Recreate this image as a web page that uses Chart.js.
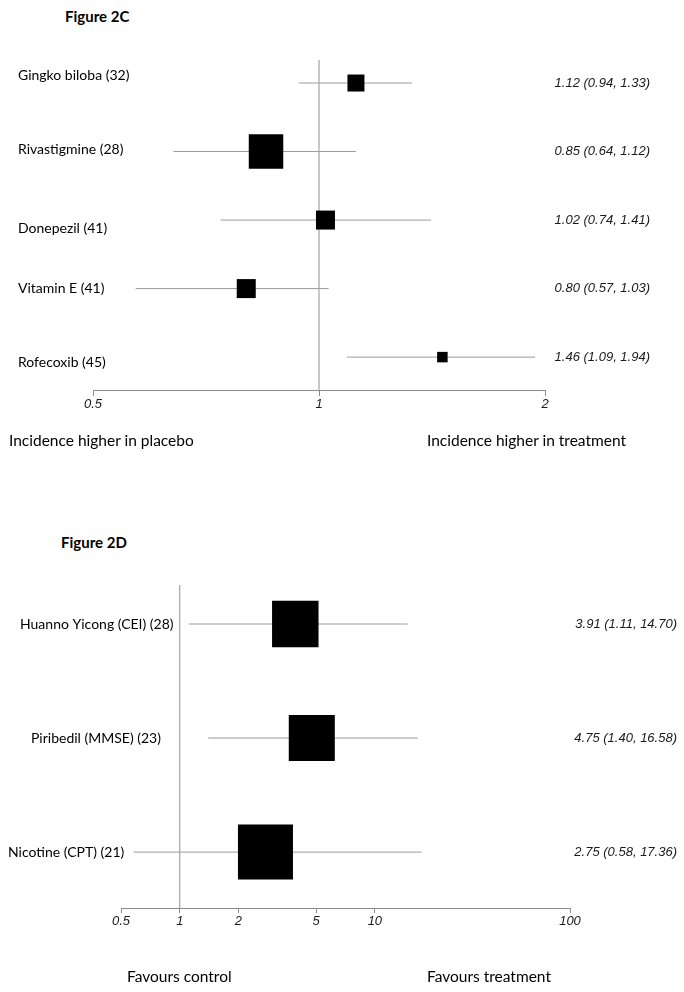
<!DOCTYPE html>
<html>
<head>
<meta charset="utf-8">
<script src="https://cdn.jsdelivr.net/npm/chart.js@4.4.1/dist/chart.umd.min.js"></script>
<style>
  body { margin: 0; background: #fff; }
  #page { position: relative; width: 684px; height: 992px; overflow: hidden; font-family: Lato, sans-serif; color: #000; }
  canvas { position: absolute; left: 0; }
  .txt { position: absolute; white-space: nowrap; line-height: 1; transform: translateY(-50%); }
  .title { font-weight: bold; font-size: 15px; }
  .foot { font-size: 15.5px; }
</style>
</head>
<body>
<div id="page">
  <div class="txt title" style="left:65px; top:16px;">Figure 2C</div>
  <canvas id="fig2c" width="684" height="470" style="top:0;"></canvas>
  <div class="txt foot" style="left:9px; top:441px;">Incidence higher in placebo</div>
  <div class="txt foot" style="left:427px; top:441px;">Incidence higher in treatment</div>

  <div class="txt title" style="left:61px; top:542px;">Figure 2D</div>
  <canvas id="fig2d" width="684" height="522" style="top:470px;"></canvas>
  <div class="txt foot" style="left:127px; top:977px;">Favours control</div>
  <div class="txt foot" style="left:427px; top:977px;">Favours treatment</div>
</div>
<script>
// Figure 2C - incidence ratios
const drugs2C = ['Gingko biloba (32)', 'Rivastigmine (28)', 'Donepezil (41)', 'Vitamin E (41)', 'Rofecoxib (45)'];
const est2C = [1.12, 0.85, 1.02, 0.80, 1.46];
const lower2C = [0.94, 0.64, 0.74, 0.57, 1.09];
const upper2C = [1.33, 1.12, 1.41, 1.03, 1.94];
const weights2C = [17, 34.5, 19, 19, 10.5];
const ticks2C = [0.5, 1, 2];

// Figure 2D - cognitive outcomes
const outcomes2D = ['Huanno Yicong (CEI) (28)', 'Piribedil (MMSE) (23)', 'Nicotine (CPT) (21)'];
const est2D = [3.91, 4.75, 2.75];
const lower2D = [1.11, 1.40, 0.58];
const upper2D = [14.70, 16.58, 17.36];
const weights2D = [31.5, 31.2, 37.3];
const ticks2D = [0.5, 1, 2, 5, 10, 100];

const lineGrey = '#9a9a9a';
const axisGrey = '#8c8c8c';

function forestChart(canvas, cfg) {
    const n = cfg.labels.length;
    const whiskers = cfg.est.map((_, i) => ({
        data: [{ x: cfg.lower[i], y: i }, { x: cfg.upper[i], y: i }],
        showLine: true,
        borderColor: lineGrey,
        borderWidth: 1,
        pointRadius: 0,
        order: 2
    }));

    const textPlugin = {
        id: 'forestText',
        afterDraw(chart) {
            const ctx = chart.ctx;
            const y = chart.scales.y;
            ctx.save();
            ctx.textBaseline = 'middle';
            ctx.fillStyle = '#000';
            ctx.font = '14px Lato';
            ctx.textAlign = 'left';
            cfg.labels.forEach((lab, i) => {
                ctx.fillText(lab, cfg.labelX[i], y.getPixelForValue(i) + cfg.labelNudge[i]);
            });
            ctx.fillStyle = '#1a1a1a';
            ctx.font = 'italic 13px "Liberation Sans"';
            ctx.textAlign = 'right';
            cfg.est.forEach((v, i) => {
                const s = v.toFixed(2) + ' (' + cfg.lower[i].toFixed(2) + ', ' + cfg.upper[i].toFixed(2) + ')';
                ctx.fillText(s, cfg.ciRight, y.getPixelForValue(i));
            });
            ctx.restore();
        }
    };

    return new Chart(canvas, {
        type: 'scatter',
        data: {
            datasets: [
                {
                    data: cfg.est.map((v, i) => ({ x: v, y: i })),
                    pointStyle: 'rect',
                    pointRadius: cfg.weights.map(w => w * cfg.boxScale / Math.SQRT2),
                    backgroundColor: '#000',
                    pointBorderWidth: 0,
                    order: 0
                },
                {
                    data: [{ x: 1, y: cfg.yMin }, { x: 1, y: cfg.yMax }],
                    showLine: true,
                    borderColor: '#a3a3a3',
                    borderWidth: 1.2,
                    pointRadius: 0,
                    clip: false,
                    order: 1
                },
                ...whiskers
            ]
        },
        options: {
            responsive: false,
            animation: false,
            events: [],
            devicePixelRatio: 1,
            layout: { padding: cfg.padding },
            plugins: { legend: { display: false }, tooltip: { enabled: false } },
            scales: {
                x: {
                    type: 'logarithmic',
                    min: cfg.ticks[0],
                    max: cfg.ticks[cfg.ticks.length - 1],
                    afterBuildTicks: s => { s.ticks = cfg.ticks.map(v => ({ value: v })); },
                    afterFit: s => { s.height = 40; },
                    ticks: {
                        autoSkip: false,
                        maxRotation: 0,
                        padding: 1,
                        color: '#1a1a1a',
                        font: { family: 'Liberation Sans', size: 13, style: 'italic' },
                        callback: v => String(v)
                    },
                    grid: { drawOnChartArea: false, tickLength: cfg.tickLength, color: axisGrey, lineWidth: 1 },
                    border: { color: axisGrey, width: 1 }
                },
                y: {
                    type: 'linear',
                    reverse: true,
                    min: cfg.yMin,
                    max: cfg.yMax,
                    display: false
                }
            }
        },
        plugins: [textPlugin]
    });
}

forestChart(document.getElementById('fig2c'), {
    labels: drugs2C, est: est2C, lower: lower2C, upper: upper2C,
    weights: weights2C, ticks: ticks2C, boxScale: 1,
    yMin: -0.336, yMax: 4.48,
    padding: { left: 93, right: 139, top: 60, bottom: 40 },
    tickLength: 6,
    labelX: [18, 18, 18, 18, 18],
    labelNudge: [-8, -2, 8, 0, 5],
    ciRight: 650
});

forestChart(document.getElementById('fig2d'), {
    labels: outcomes2D, est: est2D, lower: lower2D, upper: upper2D,
    weights: weights2D, ticks: ticks2D, boxScale: 1.475,
    yMin: -0.342, yMax: 2.49,
    padding: { left: 121, right: 114, top: 115, bottom: 44 },
    tickLength: 5,
    labelX: [20, 31, 8],
    labelNudge: [0, 0, 0],
    ciRight: 677
});
</script>
</body>
</html>
